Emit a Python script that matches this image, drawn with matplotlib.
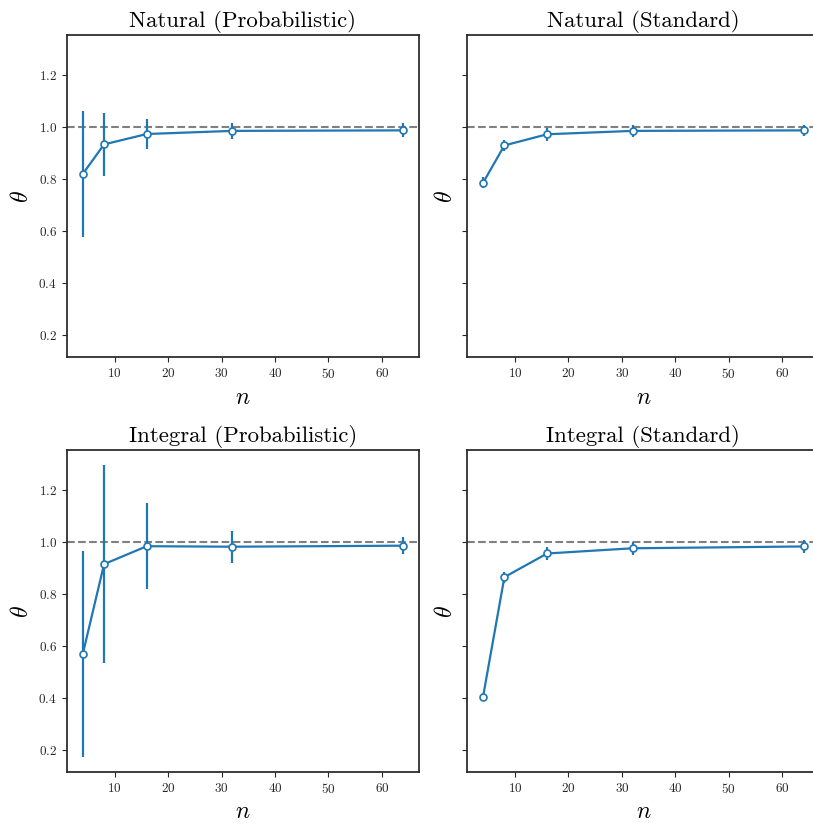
import numpy as np
import matplotlib
matplotlib.use("Agg")
import matplotlib.pyplot as plt

plt.rcParams.update({
    "font.family": "serif",
    "font.serif": ["cmr10"],
    "mathtext.fontset": "cm",
    "axes.formatter.use_mathtext": True,
    "axes.edgecolor": "0.15",
    "xtick.color": "0.15",
    "ytick.color": "0.15",
    "axes.linewidth": 1.25,
})

n = [4, 8, 16, 32, 64]

# mean theta and spread for each discretisation
nat_prob = [0.819, 0.933, 0.973, 0.985, 0.987]
nat_prob_err = [0.242, 0.120, 0.056, 0.032, 0.027]
nat_std = [0.785, 0.929, 0.972, 0.985, 0.987]
nat_std_err = [0.021, 0.022, 0.024, 0.022, 0.022]
int_prob = [0.567, 0.914, 0.983, 0.981, 0.985]
int_prob_err = [0.396, 0.382, 0.165, 0.061, 0.032]
int_std = [0.403, 0.864, 0.955, 0.975, 0.982]
int_std_err = [0.005, 0.021, 0.024, 0.026, 0.026]

titles = ["Natural (Probabilistic)", "Natural (Standard)",
          "Integral (Probabilistic)", "Integral (Standard)"]
means = [nat_prob, nat_std, int_prob, int_std]
errs = [nat_prob_err, nat_std_err, int_prob_err, int_std_err]

fig, axes = plt.subplots(2, 2, figsize=(8.13, 8.23), dpi=100, sharey=True)
fig.subplots_adjust(left=0.082, right=1.0081, top=0.957, bottom=0.062,
                    wspace=0.1353, hspace=0.289)

for ax, title, m, e in zip(axes.flat, titles, means, errs):
    ax.axhline(1.0, color="0.5", linestyle="--", linewidth=1.5, zorder=1)
    ax.errorbar(n, m, yerr=e, color="#1f77b4", linewidth=1.6, elinewidth=1.6,
                marker="o", markersize=5, markerfacecolor="white",
                markeredgecolor="#1f77b4", markeredgewidth=1.2, zorder=3)
    ax.set_title(title, fontsize=16.4)
    ax.set_xlabel(r"$n$", fontsize=17)
    ax.set_ylabel(r"$\theta$", fontsize=17)
    ax.tick_params(labelsize=9.5)
    ax.set_yticks([0.2, 0.4, 0.6, 0.8, 1.0, 1.2])

fig.savefig("out.png", dpi=100)
